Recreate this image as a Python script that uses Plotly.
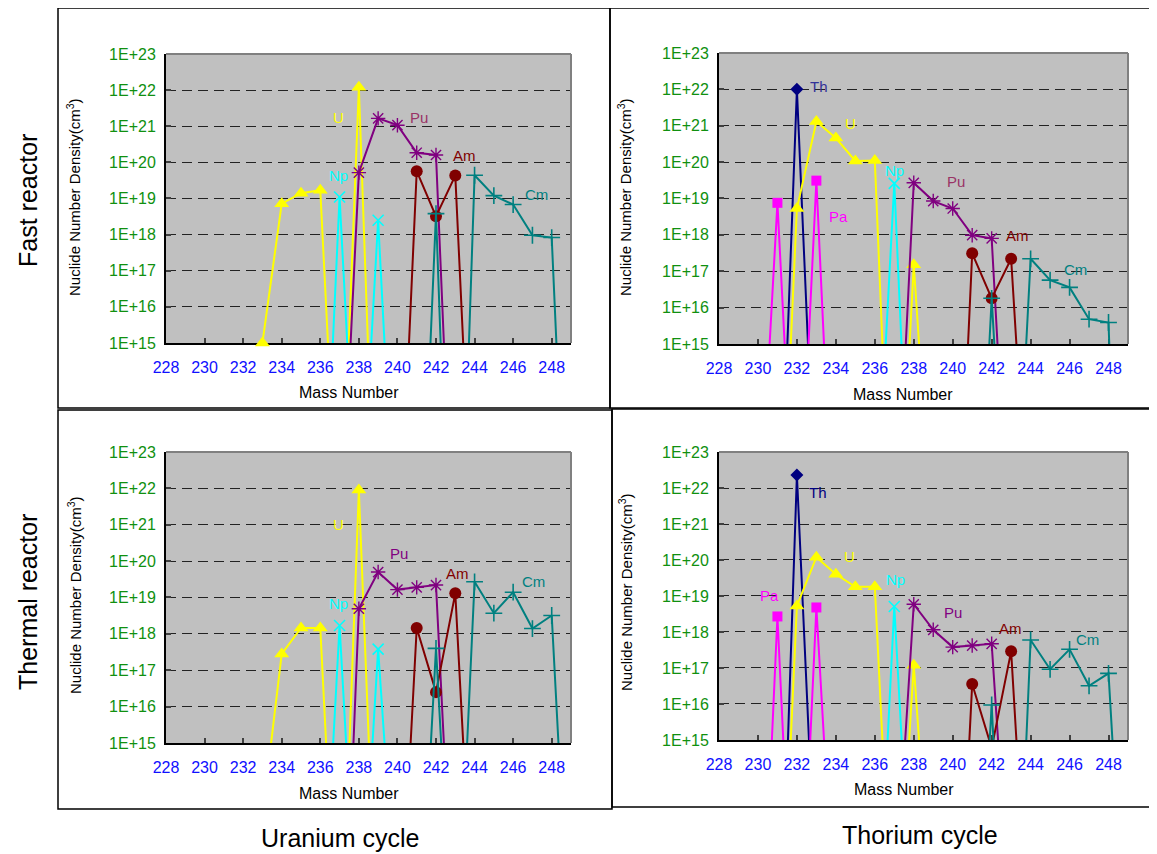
import plotly.graph_objects as go

# ---------------- data (mass number, nuclide number density) ----------------
# Fast reactor - Uranium cycle
FU_U_X = [233, 234, 235, 236, 237, 238, 239]
FU_U_Y = [1.0e15, 7.2e18, 1.4e19, 1.7e19, 4e8, 1.2e22, 1e7]
FU_NP_X = [236, 237, 238, 239, 240]
FU_NP_Y = [3e7, 1.1e19, 8e8, 2.5e18, 1.3e8]
FU_PU_X = [237, 238, 239, 240, 241, 242, 243]
FU_PU_Y = [5e8, 5.2e19, 1.65e21, 1.07e21, 1.85e20, 1.6e20, 3e7]
FU_AM_X = [240, 241, 242, 243, 244]
FU_AM_Y = [7e7, 5.7e19, 3.2e18, 4.3e19, 2e8]
FU_CM_X = [241, 242, 243, 244, 245, 246, 247, 248, 249]
FU_CM_Y = [1.3e6, 3.8e18, 5e3, 4.4e19, 1.2e19, 6.8e18, 9.6e17, 8.3e17, 8e5]

# Fast reactor - Thorium cycle
FT_TH_X = [231, 232, 233]
FT_TH_Y = [5e7, 1.0e22, 5e9]
FT_PA_X = [230, 231, 232, 233, 234]
FT_PA_Y = [1.6e9, 7.6e18, 2.5e8, 3.1e19, 1e8]
FT_U_X = [231, 232, 233, 234, 235, 236, 237, 238, 239]
FT_U_Y = [8e6, 5.3e18, 1.3e21, 4.6e20, 1.08e20, 1.1e20, 1.4e7, 1.5e17, 1.6e9]
FT_NP_X = [236, 237, 238]
FT_NP_Y = [2.5e9, 2.6e19, 3e7]
FT_PU_X = [237, 238, 239, 240, 241, 242, 243]
FT_PU_Y = [4e8, 2.7e19, 8.5e18, 5.3e18, 9.8e17, 8e17, 1.6e8]
FT_AM_X = [240, 241, 242, 243, 244]
FT_AM_Y = [6e5, 3.1e17, 1.8e16, 2.2e17, 4.5e8]
FT_CM_X = [241, 242, 243, 244, 245, 246, 247, 248, 249]
FT_CM_Y = [5e5, 1.8e16, 1e7, 2.2e17, 5.7e16, 3.6e16, 4.8e15, 3.9e15, 1.0]

# Thermal reactor - Uranium cycle
TU_U_X = [233, 234, 235, 236, 237, 238, 239]
TU_U_Y = [1e13, 2.8e17, 1.45e18, 1.45e18, 4.6e7, 9e21, 3.5e8]
TU_NP_X = [236, 237, 238, 239, 240]
TU_NP_Y = [2.8e8, 1.7e18, 5.4e8, 3.8e17, 6e9]
TU_PU_X = [237, 238, 239, 240, 241, 242, 243]
TU_PU_Y = [3e5, 4.9e18, 5e19, 1.65e19, 1.9e19, 2.2e19, 5e8]
TU_AM_X = [240, 241, 242, 243, 244]
TU_AM_Y = [1.4e8, 1.45e18, 2.5e16, 1.3e19, 1.3e9]
TU_CM_X = [241, 242, 243, 244, 245, 246, 247, 248, 249]
TU_CM_Y = [6e7, 4e17, 8e7, 2.7e19, 3.7e18, 1.4e19, 1.4e18, 3.2e18, 3e8]

# Thermal reactor - Thorium cycle
TT_TH_X = [231, 232, 233]
TT_TH_Y = [2.2e6, 2.3e22, 3e10]
TT_PA_X = [230, 231, 232, 233, 234]
TT_PA_Y = [2.5e6, 2.7e18, 1e7, 4.8e18, 2e9]
TT_U_X = [231, 232, 233, 234, 235, 236, 237, 238, 239]
TT_U_Y = [8e6, 5.3e18, 1.2e20, 4e19, 1.8e19, 1.8e19, 2.2e8, 1.2e17, 2.5e9]
TT_NP_X = [236, 237, 238]
TT_NP_Y = [8e7, 5.1e18, 8e8]
TT_PU_X = [237, 238, 239, 240, 241, 242, 243]
TT_PU_Y = [1.6e10, 5.9e18, 1.15e18, 3.8e17, 4.2e17, 4.7e17, 3.5e9]
TT_AM_X = [240, 241, 242, 243, 244]
TT_AM_Y = [7e5, 3.6e16, 6e14, 2.9e17, 2.3e8]
TT_CM_X = [241, 242, 243, 244, 245, 246, 247, 248, 249]
TT_CM_Y = [3e6, 9.4e15, 1.6e5, 6e17, 9.2e16, 3.3e17, 3.2e16, 7.1e16, 4e7]

X_TICKS = [228, 230, 232, 234, 236, 238, 240, 242, 244, 246, 248]
Y_TICKS = [1e15, 1e16, 1e17, 1e18, 1e19, 1e20, 1e21, 1e22, 1e23]
Y_TICK_TEXT = ["1E+15", "1E+16", "1E+17", "1E+18", "1E+19", "1E+20", "1E+21", "1E+22", "1E+23"]

ROW_LABELS = ["Fast reactor", "Thermal reactor"]
COL_LABELS = ["Uranium cycle", "Thorium cycle"]

# ---------------- styles ----------------
STYLE = {
    "U": dict(color="#FFFF00", symbol="triangle-up", size=13, lw=0),
    "Np": dict(color="#00FFFF", symbol="x-thin-open", size=11, lw=1.6),
    "Pu": dict(color="#800080", symbol="asterisk-open", size=12, lw=1.4),
    "Am": dict(color="#800000", symbol="circle", size=12, lw=0),
    "Cm": dict(color="#008080", symbol="cross-thin-open", size=12, lw=1.6),
    "Th": dict(color="#000080", symbol="diamond", size=10, lw=0),
    "Pa": dict(color="#FF00FF", symbol="square", size=10, lw=0),
}

# page body has an 8px default margin: lay out in screen pixels, shifted by it
OFF = 8
W, H = 1157 - OFF, 854 - OFF


def pxx(v):
    return (v - OFF) / W


def pxy(v):
    return 1 - (v - OFF) / H


panels = [
    dict(ax="", dom_x=(166, 571), dom_y=(54, 343),
         series=[("U", FU_U_X, FU_U_Y), ("Np", FU_NP_X, FU_NP_Y), ("Pu", FU_PU_X, FU_PU_Y),
                 ("Am", FU_AM_X, FU_AM_Y), ("Cm", FU_CM_X, FU_CM_Y)],
         labels=[("U", 236.96, 21.24, "#FFFF00"), ("Pu", 241.1, 21.24, "#993366"),
                 ("Am", 243.5, 20.2, "#800000"), ("Np", 236.96, 19.65, "#00FFFF"),
                 ("Cm", 247.2, 19.1, "#008080")],
         ytitle=(74, 197), xtitle=(349, 392), frame=(58, 8, 610, 408)),
    dict(ax="2", dom_x=(719, 1128), dom_y=(53, 344),
         series=[("Th", FT_TH_X, FT_TH_Y), ("Pa", FT_PA_X, FT_PA_Y), ("U", FT_U_X, FT_U_Y),
                 ("Np", FT_NP_X, FT_NP_Y), ("Pu", FT_PU_X, FT_PU_Y), ("Am", FT_AM_X, FT_AM_Y),
                 ("Cm", FT_CM_X, FT_CM_Y)],
         labels=[("Th", 233.14, 22.08, "#333399"), ("U", 234.73, 21.06, "#FFFF00"),
                 ("Np", 237.02, 19.78, "#00FFFF"), ("Pu", 240.16, 19.46, "#993366"),
                 ("Pa", 234.11, 18.5, "#FF00FF"), ("Am", 243.32, 17.99, "#800000"),
                 ("Cm", 246.32, 17.05, "#008080")],
         ytitle=(625, 197), xtitle=(903, 394), frame=(610, 8, 1156, 408)),
    dict(ax="3", dom_x=(166, 571), dom_y=(452, 743),
         series=[("U", TU_U_X, TU_U_Y), ("Np", TU_NP_X, TU_NP_Y), ("Pu", TU_PU_X, TU_PU_Y),
                 ("Am", TU_AM_X, TU_AM_Y), ("Cm", TU_CM_X, TU_CM_Y)],
         labels=[("U", 236.96, 21.0, "#FFFF00"), ("Pu", 240.08, 20.2, "#800080"),
                 ("Am", 243.1, 19.66, "#800000"), ("Np", 236.96, 18.83, "#00FFFF"),
                 ("Cm", 247.08, 19.45, "#008080")],
         ytitle=(74, 595), xtitle=(349, 793), frame=(58, 410, 612, 809)),
    dict(ax="4", dom_x=(719, 1128), dom_y=(452, 740),
         series=[("Th", TT_TH_X, TT_TH_Y), ("Pa", TT_PA_X, TT_PA_Y), ("U", TT_U_X, TT_U_Y),
                 ("Np", TT_NP_X, TT_NP_Y), ("Pu", TT_PU_X, TT_PU_Y), ("Am", TT_AM_X, TT_AM_Y),
                 ("Cm", TT_CM_X, TT_CM_Y)],
         labels=[("Th", 233.09, 21.88, "#000080"), ("U", 234.68, 20.1, "#FFFF00"),
                 ("Np", 237.08, 19.47, "#00FFFF"), ("Pa", 230.6, 19.0, "#FF00FF"),
                 ("Pu", 240.02, 18.54, "#800080"), ("Am", 242.95, 18.1, "#800000"),
                 ("Cm", 246.92, 17.78, "#008080")],
         ytitle=(625, 592), xtitle=(904, 789), frame=(612, 409, 1156, 807)),
]

FONT = "Liberation Sans, Arial, sans-serif"

fig = go.Figure()
annotations = []
shapes = []
layout = {}


def paper_text(text, x, y, size, angle=0):
    return dict(text=text, textangle=angle, x=pxx(x), y=pxy(y), xref="paper", yref="paper",
                xanchor="center", yanchor="middle", showarrow=False,
                font=dict(family=FONT, size=size, color="black"))


for p in panels:
    a = p["ax"]
    xname, yname = "x" + a, "y" + a
    for name, xs, ys in p["series"]:
        st = STYLE[name]
        visible = [1 if v >= 0.999e15 else 0 for v in ys]
        fig.add_trace(go.Scatter(
            x=xs, y=ys, mode="lines+markers", xaxis=xname, yaxis=yname,
            line=dict(color=st["color"], width=2),
            marker=dict(symbol=st["symbol"], size=st["size"], color=st["color"],
                        opacity=visible,
                        line=dict(color=st["color"], width=st["lw"])),
            cliponaxis=False, showlegend=False, hoverinfo="skip"))
    for text, lx, ly, col in p["labels"]:
        annotations.append(dict(text=text, x=lx, y=ly, xref=xname, yref=yname,
                                xanchor="center", yanchor="middle",
                                showarrow=False, font=dict(family=FONT, size=15, color=col)))
    layout["xaxis" + a] = dict(
        domain=[pxx(p["dom_x"][0]), pxx(p["dom_x"][1])], anchor=yname,
        range=[228, 249], tickmode="array", tickvals=X_TICKS,
        ticks="inside", ticklen=5, tickwidth=2, tickcolor="#404040",
        showline=True, linecolor="black", linewidth=2, showgrid=False, zeroline=False,
        tickfont=dict(family=FONT, size=16, color="#1010FF"), ticklabelstandoff=9,
        layer="below traces", automargin=False)
    layout["yaxis" + a] = dict(
        domain=[pxy(p["dom_y"][1]), pxy(p["dom_y"][0])], anchor=xname,
        type="log", range=[14.9995, 23], tickmode="array", tickvals=Y_TICKS, ticktext=Y_TICK_TEXT,
        ticks="inside", ticklen=5, tickwidth=2, tickcolor="#404040",
        showline=True, linecolor="black", linewidth=2,
        showgrid=True, gridcolor="#222222", gridwidth=1, griddash="10px,6px",
        zeroline=False, tickfont=dict(family=FONT, size=16, color="#109010"),
        ticklabelstandoff=5, layer="below traces", automargin=False)
    # gray top and right border of plot area
    shapes.append(dict(type="line", xref=xname + " domain", yref=yname + " domain",
                       x0=0, x1=1, y0=1, y1=1, line=dict(color="#808080", width=2), layer="above"))
    shapes.append(dict(type="line", xref=xname + " domain", yref=yname + " domain",
                       x0=1, x1=1, y0=0, y1=1, line=dict(color="#808080", width=2), layer="above"))
    # panel frame
    fx0, fy0, fx1, fy1 = p["frame"]
    shapes.append(dict(type="rect", xref="paper", yref="paper",
                       x0=pxx(fx0), x1=pxx(fx1), y0=pxy(fy1), y1=pxy(fy0),
                       line=dict(color="black", width=1.5), fillcolor="rgba(0,0,0,0)", layer="below"))
    # axis titles
    annotations.append(paper_text("Nuclide Number Density(cm<sup>3</sup>)",
                                  p["ytitle"][0], p["ytitle"][1], 15, -90))
    annotations.append(paper_text("Mass Number", p["xtitle"][0], p["xtitle"][1], 16))

# row and column labels
for txt, yy in zip(ROW_LABELS, [201, 602]):
    annotations.append(paper_text(txt, 28, yy, 25, -90))
for txt, xx, yy in zip(COL_LABELS, [340, 920], [838, 835]):
    annotations.append(paper_text(txt, xx, yy, 25))

fig.update_layout(
    width=W, height=H, margin=dict(l=0, r=0, t=0, b=0, pad=0, autoexpand=False),
    paper_bgcolor="white", plot_bgcolor="#C0C0C0",
    annotations=annotations, shapes=shapes, **layout)

fig.write_html("out.html")
